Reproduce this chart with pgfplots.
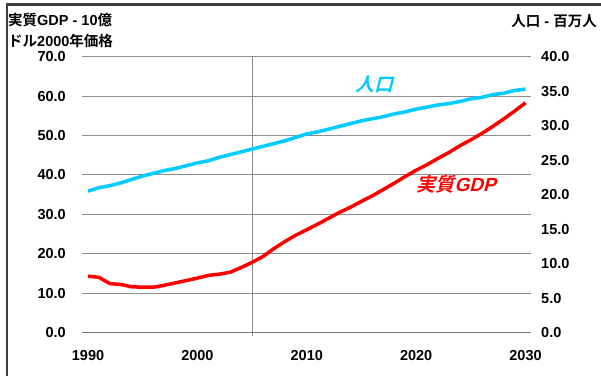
\documentclass[border=0pt]{standalone}
\usepackage{pgfplots}
\pgfplotsset{compat=1.18}
\usepackage{fontspec}
\setmainfont{Liberation Sans}
\newfontfamily\cjk{Noto Sans CJK JP}[BoldFont={Noto Sans CJK JP Bold}]
\definecolor{cy}{HTML}{00CCFF}
\definecolor{rd}{HTML}{FF0000}
\definecolor{gridc}{HTML}{8C8C8C}
\definecolor{axc}{HTML}{7A7A7A}
\definecolor{framec}{HTML}{404040}

\pgfplotstableread{
year gdp
1990 14.3
1991 14.0
1992 12.4
1993 12.2
1994 11.6
1995 11.5
1996 11.5
1997 12.0
1998 12.6
1999 13.2
2000 13.8
2001 14.5
2002 14.8
2003 15.3
2004 16.5
2005 17.8
2006 19.3
2007 21.3
2008 23.1
2009 24.7
2010 26.1
2011 27.5
2012 29.0
2013 30.5
2014 31.8
2015 33.3
2016 34.7
2017 36.3
2018 37.9
2019 39.6
2020 41.2
2021 42.6
2022 44.2
2023 45.7
2024 47.4
2025 48.9
2026 50.5
2027 52.3
2028 54.2
2029 56.2
2030 58.3
}\gdptable

\pgfplotstableread{
year pop
1990 20.5
1991 21.0
1992 21.3
1993 21.7
1994 22.2
1995 22.7
1996 23.1
1997 23.5
1998 23.8
1999 24.2
2000 24.6
2001 24.9
2002 25.4
2003 25.8
2004 26.2
2005 26.6
2006 27.0
2007 27.4
2008 27.8
2009 28.3
2010 28.8
2011 29.1
2012 29.5
2013 29.9
2014 30.3
2015 30.7
2016 31.0
2017 31.3
2018 31.7
2019 32.0
2020 32.4
2021 32.7
2022 33.0
2023 33.2
2024 33.5
2025 33.9
2026 34.1
2027 34.5
2028 34.7
2029 35.1
2030 35.3
}\poptable

\begin{document}
\begin{tikzpicture}[x=1pt,y=1pt,font=\fontsize{14.5}{16}\selectfont\bfseries]
\path[use as bounding box] (0,0) rectangle (601,376);
\draw[framec, line width=2pt] (6.5,0) -- (6.5,371.5) -- (601,371.5);

\begin{axis}[
  at={(82pt,43.5pt)}, anchor=south west,
  scale only axis, width=449pt, height=275.8pt,
  xmin=1989.45, xmax=2030.5, ymin=0, ymax=70,
  xtick={1990,2000,2010,2020,2030},
  ytick={0,10,20,30,40,50,60,70},
  ymajorgrids, grid style={gridc, line width=1pt},
  axis line style={draw=none}, major tick length=0pt,
  tick style={draw=none},
  clip=false,
  /pgf/number format/assume math mode=true,
  yticklabel style={/pgf/number format/fixed, /pgf/number format/fixed zerofill, /pgf/number format/precision=1},
  xticklabel style={/pgf/number format/1000 sep={}},
  y tick label style={inner sep=0pt, anchor=east, xshift=-16pt, font=\fontsize{14.5}{16}\selectfont\bfseries},
  x tick label style={inner sep=0pt, anchor=north, yshift=-17.5pt, font=\fontsize{14.5}{16}\selectfont\bfseries},
]
\addplot[gridc, line width=1pt] coordinates {(2005,-1) (2005,70)};
\addplot[axc, line width=1.6pt] coordinates {(1989.45,0) (2030.5,0)};
\addplot[rd, line width=3.5pt, line join=round] table[x=year,y=gdp] {\gdptable};
\end{axis}

\begin{axis}[
  at={(82pt,43.5pt)}, anchor=south west,
  scale only axis, width=449pt, height=275.8pt,
  xmin=1989.45, xmax=2030.5, ymin=0, ymax=40,
  axis x line=none, axis y line*=right,
  ytick={0,5,10,15,20,25,30,35,40},
  axis line style={draw=none}, major tick length=0pt,
  tick style={draw=none},
  /pgf/number format/assume math mode=true,
  yticklabel style={/pgf/number format/fixed, /pgf/number format/fixed zerofill, /pgf/number format/precision=1},
  y tick label style={inner sep=0pt, anchor=west, xshift=10pt, font=\fontsize{14.5}{16}\selectfont\bfseries},
]
\addplot[cy, line width=3.5pt, line join=round] table[x=year,y=pop] {\poptable};
\end{axis}

\node[anchor=west, inner sep=0pt] at (8,356.3) {{\cjk 実質}GDP - 10{\cjk 億}};
\node[anchor=west, inner sep=0pt] at (8,335.3) {{\cjk ドル}2000{\cjk 年価格}};
\node[anchor=east, inner sep=0pt] at (597,355) {{\cjk 人口} - {\cjk 百万人}};
\node[cy, xslant=0.25, inner sep=0pt, font=\fontsize{19}{21}\selectfont\bfseries] at (376.7,292) {\cjk 人口};
\node[rd, xslant=0.25, inner sep=0pt, font=\fontsize{19}{21}\selectfont\bfseries] at (458,192) {{\cjk 実質}GDP};
\end{tikzpicture}
\end{document}
